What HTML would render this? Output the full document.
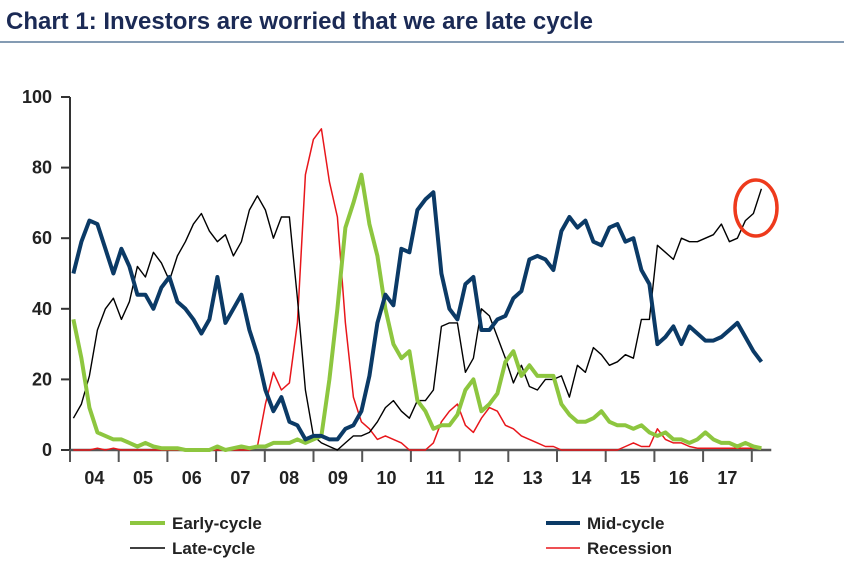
<!DOCTYPE html>
<html><head><meta charset="utf-8"><style>
body{margin:0;background:#fff;width:844px;height:570px;overflow:hidden;font-family:"Liberation Sans Narrow","Liberation Sans",sans-serif;}
svg text{font-family:"Liberation Sans Narrow","Liberation Sans",sans-serif;font-weight:bold;}
</style></head><body>
<svg width="844" height="570">
<text x="6" y="29" font-size="24" fill="#1b2a55" style="font-family:'Liberation Sans',sans-serif">Chart 1: Investors are worried that we are late cycle</text>
<line x1="0" y1="42" x2="844" y2="42" stroke="#5b7a9a" stroke-width="1.5"/>
<g id="axes"></g>
<g id="series"></g>
<ellipse cx="756" cy="208" rx="21" ry="28" fill="none" stroke="#ee3a1c" stroke-width="3.5"/>
<g>
<line x1="130" y1="523" x2="165" y2="523" stroke="#8dc63f" stroke-width="4"/>
<text x="172" y="529" font-size="17" fill="#222">Early-cycle</text>
<line x1="130" y1="548" x2="165" y2="548" stroke="#000" stroke-width="1.5"/>
<text x="172" y="554" font-size="17" fill="#222">Late-cycle</text>
<line x1="546" y1="523" x2="580" y2="523" stroke="#0b3a66" stroke-width="4"/>
<text x="587" y="529" font-size="17" fill="#222">Mid-cycle</text>
<line x1="546" y1="548" x2="580" y2="548" stroke="#e8161b" stroke-width="1.5"/>
<text x="587" y="554" font-size="17" fill="#222">Recession</text>
</g>
</svg>
<script>
const yTicks=[0,20,40,60,80,100];
const years=["04","05","06","07","08","09","10","11","12","13","14","15","16","17"];
const startYear=2004.07, stepYears=8/48.7;
const early=[37,26,12,5,4,3,3,2,1,2,1,0.5,0.5,0.5,0,0,0,0,1,0,0.5,1,0.5,1,1,2,2,2,3,2,3,4,20,40,63,70,78,64,55,40,30,26,28,14,
11,6,7,7,10,17,20,11,13,16,25,28,21,24,21,21,21,13,10,8,8,9,11,8,7,7,6,7,5,4,5,3,3,2,3,5,3,2,2,1,2,1,0.5];
const mid=[50,59,65,64,57,50,57,52,44,44,40,46,49,42,40,37,33,37,49,36,40,44,34,27,17,11,15,8,7,3,4,4,3,3,6,7,11,21,36,44,41,57,56,68,
71,73,50,40,37,47,49,34,34,37,38,43,45,54,55,54,51,62,66,63,65,59,58,63,64,59,60,51,47,30,32,35,30,35,33,31,31,32,34,36,32,28,25];
const late=[9,13,21,34,40,43,37,42,52,49,56,53,48,55,59,64,67,62,59,61,55,59,68,72,68,60,66,66,43,17,4,2,1,0,2,4,4,5,8,12,14,11,9,14,
14,17,35,36,36,22,26,40,38,32,26,19,24,18,17,20,20,21,15,24,22,29,27,24,25,27,26,37,37,58,56,54,60,59,59,60,61,64,59,60,65,67,74];
const recession=[0,0,0,0.5,0,0.5,0,0,0,0,0,0,0,0,0,0,0,0,0,0,0,0,0,1,13,22,17,19,36,78,88,91,76,66,36,15,8,6,3,4,3,2,0,0,
0,2,8,11,13,7,5,9,12,11,7,6,4,3,2,1,1,0,0,0,0,0,0,0,0,1,2,1,1,6,3,2,2,1,0.5,0.5,0.5,0.5,0.5,0.5,0.5,0.5,0.5];
const NS="http://www.w3.org/2000/svg";
const X0=70,PXY=48.7,Y0=450,PXV=3.53;
function xs(year){return X0+(year-2004)*PXY;}
function ys(v){return Y0-v*PXV;}
function mk(tag,attrs,parent){const e=document.createElementNS(NS,tag);for(const k in attrs)e.setAttribute(k,attrs[k]);parent.appendChild(e);return e;}
const ax=document.getElementById('axes');
let l=mk('line',{x1:X0,y1:ys(100),x2:X0,y2:Y0,stroke:'#333','stroke-width':2},ax);


l=mk('line',{x1:X0,y1:Y0,x2:xs(2018.4),y2:Y0,stroke:'#555','stroke-width':2.5},ax);


yTicks.forEach(v=>{
 const t=mk('line',{x1:X0-9,y1:ys(v),x2:X0,y2:ys(v),stroke:'#333','stroke-width':2},ax);
 
 
 const tx=mk('text',{x:X0-18,y:ys(v)+6,'text-anchor':'end','font-size':18,fill:'#222'},ax);
 tx.textContent=v;
 
 
});
for(let i=0;i<=years.length;i++){
 const t=mk('line',{x1:xs(2004+i),y1:Y0,x2:xs(2004+i),y2:Y0+12,stroke:'#555','stroke-width':2},ax);
 
 
}
years.forEach((y,i)=>{
 const tx=mk('text',{x:xs(2004.5+i),y:484,'text-anchor':'middle','font-size':18,fill:'#222'},ax);
 tx.textContent=y;
 
 
});
const sg=document.getElementById('series');
function draw(arr,color,w,name){
 const d=arr.map((v,i)=>(i?'L':'M')+xs(startYear+i*stepYears).toFixed(1)+','+ys(v).toFixed(1)).join(' ');
 const p=mk('path',{d:d,fill:'none',stroke:color,'stroke-width':w,'stroke-linejoin':'round'},sg);
 
 
}
draw(recession,'#e8161b',1.5,'recession-line');
draw(late,'#000',1.4,'late-cycle-line');
draw(early,'#8dc63f',4,'early-cycle-line');
draw(mid,'#0b3a66',4,'mid-cycle-line');
</script>
</body></html>
